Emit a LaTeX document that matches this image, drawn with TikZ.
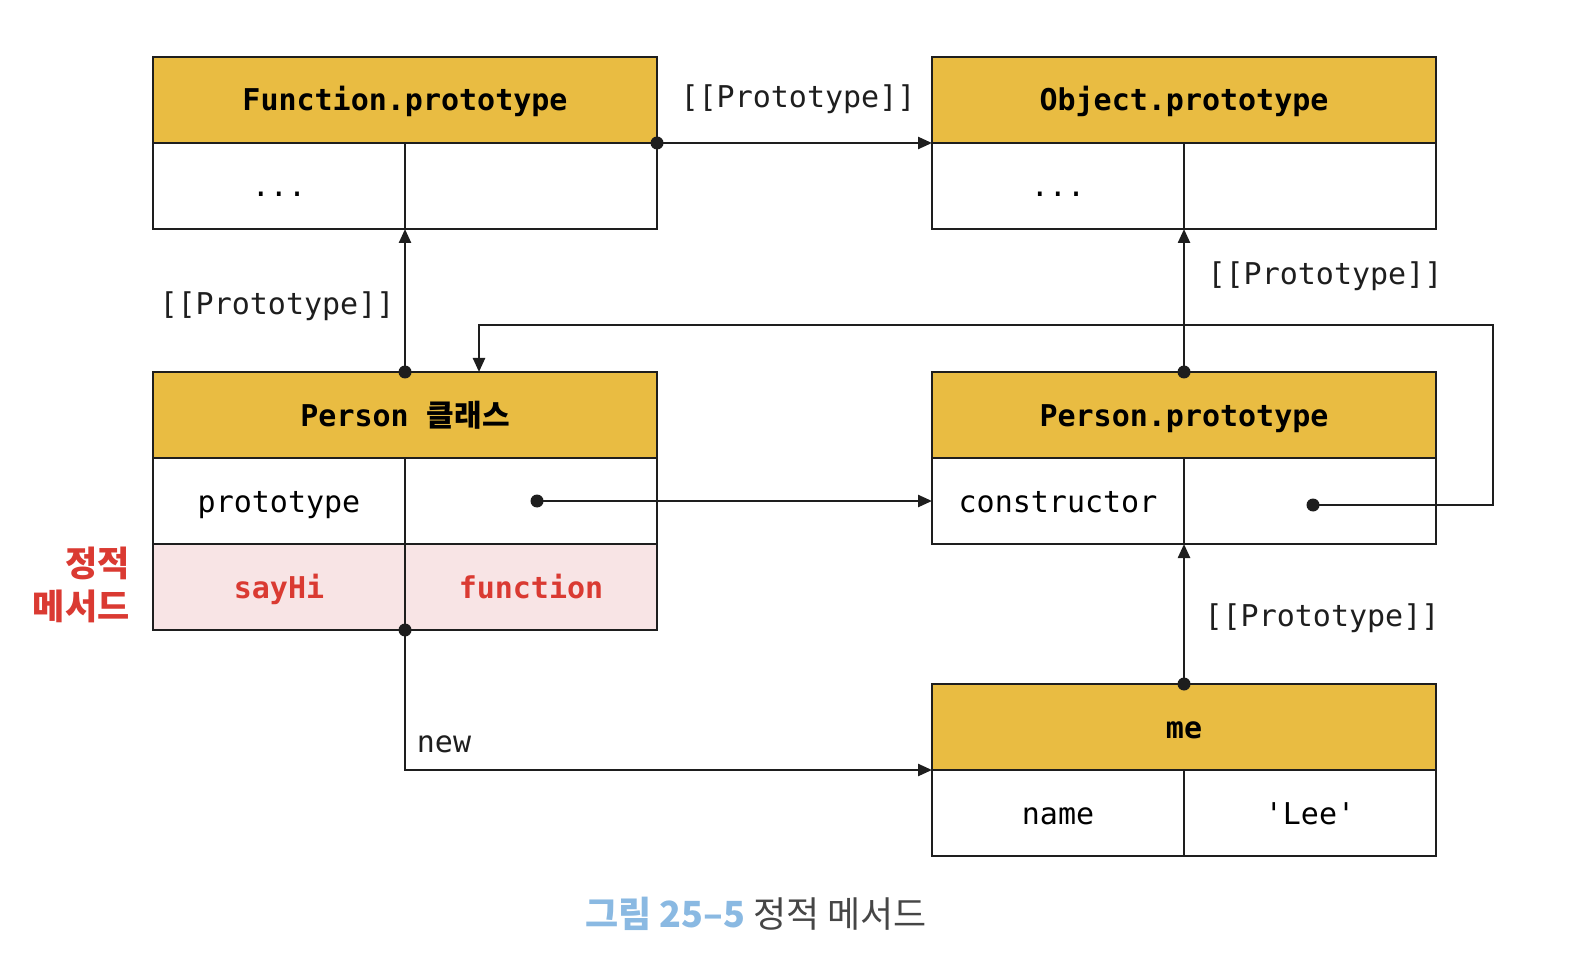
\documentclass[tikz,border=0pt]{standalone}
\usepackage{fontspec}
\setmonofont{DejaVu Sans Mono}
\newfontfamily\kr{Noto Sans CJK KR}
\usetikzlibrary{positioning,arrows.meta}
\definecolor{linec}{RGB}{30,30,30}
\definecolor{hdryellow}{RGB}{233,188,66}
\definecolor{statpink}{RGB}{248,228,229}
\definecolor{statred}{RGB}{218,58,50}
\definecolor{capblue}{RGB}{138,185,226}
\definecolor{capgray}{RGB}{70,70,70}
\begin{document}
\begin{tikzpicture}[x=1pt,y=-1pt,
  hdr/.style={draw=linec,line width=2.6pt,fill=hdryellow,minimum width=504pt,minimum height=86pt,inner sep=0pt,outer sep=0pt,text height=22pt,text depth=0pt,font=\ttfamily\bfseries\fontsize{30}{36}\selectfont},
  cell/.style={draw=linec,line width=2.6pt,fill=white,minimum width=252pt,minimum height=86pt,inner sep=0pt,outer sep=0pt,text height=22pt,text depth=0pt,font=\ttfamily\fontsize{30}{36}\selectfont},
  statcell/.style={cell,fill=statpink,text=statred,font=\ttfamily\bfseries\fontsize{30}{36}\selectfont},
  lbl/.style={text=linec,font=\ttfamily\fontsize{30}{36}\selectfont},
  dot/.style={circle,fill=linec,inner sep=0pt,minimum size=13pt},
  arr/.style={draw=linec,line width=2.4pt,-{Triangle[length=14pt,width=12pt]}}]
\useasboundingbox (0,0) rectangle (1585,965);

% Function.prototype
\node[hdr] (fp) at (405,100) {Function.prototype};
\node[cell,below right=0pt and 0pt of fp.south west] (fpa) {...};
\node[cell,right=0pt of fpa] (fpb) {};

% Object.prototype
\node[hdr] (op) at (1184,100) {Object.prototype};
\node[cell,below right=0pt and 0pt of op.south west] (opa) {...};
\node[cell,right=0pt of opa] (opb) {};

% Person class
\node[hdr] (pc) at (405,415) {Person {\kr 클래스}};
\node[cell,below right=0pt and 0pt of pc.south west] (pca) {prototype};
\node[cell,right=0pt of pca] (pcb) {};
\node[statcell,below=0pt of pca] (pcc) {sayHi};
\node[statcell,right=0pt of pcc] (pcd) {function};

% Person.prototype
\node[hdr] (pp) at (1184,415) {Person.prototype};
\node[cell,below right=0pt and 0pt of pp.south west] (ppa) {constructor};
\node[cell,right=0pt of ppa] (ppb) {};

% me
\node[hdr] (me) at (1184,727) {me};
\node[cell,below right=0pt and 0pt of me.south west] (mea) {name};
\node[cell,right=0pt of mea] (meb) {'Lee'};

\node[font=\kr\bfseries\fontsize{35}{43}\selectfont,text=statred,align=right,anchor=east] (statlbl) at (133,585) {정적\\메서드};

% dots
\node[dot] (d1) at (fp.south east) {};
\node[dot] (d2) at (pc.north) {};
\node[dot] (d3) at (pp.north) {};
\node[dot] (d4) at (me.north) {};
\node[dot] (d5) at (537,501) {};
\node[dot] (d6) at (1313,505) {};
\node[dot] (d7) at (pcc.south east) {};
\coordinate (rt) at (1493,325);
\coordinate (ctop) at (479,372);

% links
\draw[arr] (d1.center) -- (op.south west);
\draw[arr] (d2.center) -- (fpb.south west);
\draw[arr] (d3.center) -- (opb.south west);
\draw[arr] (d4.center) -- (ppb.south west);
\draw[arr] (d5.center) -- (ppa.west);
\draw[arr] (d6.center) -| (rt) -| (ctop);
\draw[arr] (d7.center) |- (me.south west);

\node[lbl] (l1) at (798,99) {[[Prototype]]};
\node[lbl] (l2) at (277,306) {[[Prototype]]};
\node[lbl] (l3) at (1325,276) {[[Prototype]]};
\node[lbl] (l4) at (1322,618) {[[Prototype]]};
\node[lbl] (lnew) at (444,744) {new};

\node[font=\kr\fontsize{36}{42}\selectfont] (cap) at (756,914) {{\color{capblue}\bfseries 그림 25–5} {\color{capgray}정적 메서드}};
\end{tikzpicture}
\end{document}
